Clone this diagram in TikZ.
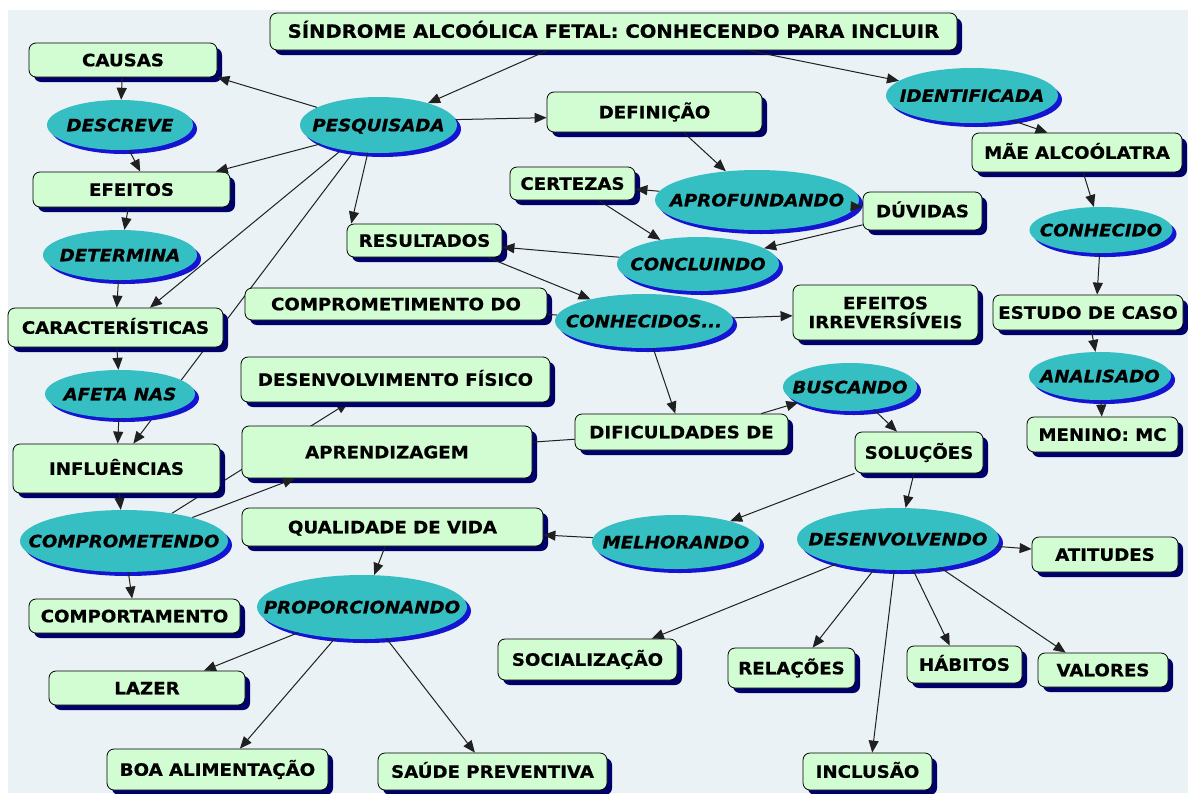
\documentclass[tikz,border=0pt]{standalone}
\usepackage{fontspec}
\newfontfamily\mapfont{DejaVu Sans}[FakeStretch=1.07,FakeBold=0.6]
\usetikzlibrary{shapes.geometric,shadows,arrows.meta}

\definecolor{paper}{HTML}{EAF2F5}
\definecolor{mint}{HTML}{D2FCD2}
\definecolor{tealfill}{HTML}{35BFC3}
\definecolor{boxshade}{HTML}{00006A}
\definecolor{ovalshade}{HTML}{1414D2}
\definecolor{ink}{HTML}{202020}

\pgfdeclarelayer{bg}
\pgfdeclarelayer{under}
\pgfsetlayers{bg,under,main}

% zero-width label so the ellipse keeps its given size
\newcommand\ph[1]{\makebox[0pt]{#1}}

\tikzset{
  conceptbase/.style={rectangle, rounded corners=7pt, draw=black, line width=0.8pt,
    fill=mint, inner sep=0pt, align=center,
    font=\mapfont\bfseries\fontsize{17}{20}\selectfont,
    general shadow={fill=boxshade, shadow xshift=5pt, shadow yshift=-5pt}},
  concept/.style={conceptbase, text height=12.5pt, text depth=0pt},
  phrase/.style={ellipse, fill=tealfill, inner sep=0pt,
    text height=12.5pt, text depth=0pt,
    font=\mapfont\bfseries\itshape\fontsize{17}{20}\selectfont,
    general shadow={fill=ovalshade, shadow xshift=4pt, shadow yshift=-4pt}},
  link/.style={draw=ink, line width=1pt, -{Triangle[length=12pt,width=10pt]}},
  tie/.style={draw=ink, line width=1pt},
}

\begin{document}
\begin{tikzpicture}[x=1pt,y=-1pt]
\useasboundingbox (0,0) rectangle (1188,793);
\begin{pgfonlayer}{bg}
  \fill[white] (0,0) rectangle (1188,793);
  \fill[paper] (8,10) rectangle (1188,793);
\end{pgfonlayer}

% title
\node[concept, minimum width=687pt, minimum height=37pt,
      font=\mapfont\bfseries\fontsize{18.3}{21}\selectfont]
      (title) at (613.5,31.5) {SÍNDROME ALCOÓLICA FETAL: CONHECENDO PARA INCLUIR};

% left column
\node[concept, minimum width=188pt, minimum height=34pt] (causas) at (123,60) {CAUSAS};
\node[phrase, minimum width=146pt, minimum height=50pt] (descr) at (120,125) {\ph{DESCREVE}};
\node[concept, minimum width=197pt, minimum height=35pt] (efeitos) at (131.5,189.5) {EFEITOS};
\node[phrase, minimum width=154pt, minimum height=50pt] (determ) at (120,255) {\ph{DETERMINA}};
\node[concept, minimum width=215pt, minimum height=39pt] (caract) at (115.5,327.5) {CARACTERÍSTICAS};
\node[phrase, minimum width=150pt, minimum height=48pt] (afeta) at (120,394) {\ph{AFETA NAS}};
\node[concept, minimum width=207pt, minimum height=49pt] (influ) at (116.5,468.5) {INFLUÊNCIAS};
\node[phrase, minimum width=208pt, minimum height=62pt] (compm) at (124,541) {\ph{COMPROMETENDO}};
\node[concept, minimum width=211pt, minimum height=34pt] (compt) at (134.5,616) {COMPORTAMENTO};
\node[concept, minimum width=196pt, minimum height=34pt] (lazer) at (147,688) {LAZER};
\node[concept, minimum width=221pt, minimum height=41pt] (boa) at (217.5,769.5) {BOA ALIMENTAÇÃO};

% middle
\node[phrase, minimum width=157pt, minimum height=56pt] (pesq) at (378.5,125) {\ph{PESQUISADA}};
\node[concept, minimum width=215pt, minimum height=40pt] (defin) at (654.5,112) {DEFINIÇÃO};
\node[concept, minimum width=125pt, minimum height=33pt] (certez) at (572.5,183.5) {CERTEZAS};
\node[phrase, minimum width=204pt, minimum height=60pt] (aprof) at (757,200) {\ph{APROFUNDANDO}};
\node[concept, minimum width=119pt, minimum height=38pt] (duvid) at (922.5,211) {DÚVIDAS};
\node[concept, minimum width=155pt, minimum height=33pt] (result) at (424.5,240.5) {RESULTADOS};
\node[phrase, minimum width=162pt, minimum height=54pt] (conclu) at (698,264) {\ph{CONCLUINDO}};
\node[concept, minimum width=302pt, minimum height=32pt] (comprdo) at (396,304) {COMPROMETIMENTO DO};
\node[phrase, minimum width=178pt, minimum height=54pt] (conhcd) at (644,321) {\ph{CONHECIDOS...}};
\node[conceptbase, minimum width=185pt, minimum height=55pt] (efirr) at (885.5,312.5)
      {EFEITOS\\[-1pt]IRREVERSÍVEIS};
\node[concept, minimum width=309pt, minimum height=45pt] (desfis) at (395.5,379.5) {DESENVOLVIMENTO FÍSICO};
\node[concept, minimum width=290pt, minimum height=52pt] (aprend) at (387,452) {APRENDIZAGEM};
\node[concept, minimum width=213pt, minimum height=36pt] (dific) at (681.5,432) {DIFICULDADES DE};
\node[phrase, minimum width=134pt, minimum height=48pt] (busc) at (850,387) {\ph{BUSCANDO}};
\node[concept, minimum width=128pt, minimum height=41pt] (soluc) at (919,452.5) {SOLUÇÕES};
\node[concept, minimum width=301pt, minimum height=38pt] (qualid) at (392.5,527) {QUALIDADE DE VIDA};
\node[phrase, minimum width=168pt, minimum height=54pt] (melh) at (676,542) {\ph{MELHORANDO}};
\node[phrase, minimum width=210pt, minimum height=64pt] (propor) at (362,607) {\ph{PROPORCIONANDO}};
\node[concept, minimum width=229pt, minimum height=37pt] (saude) at (492.5,771.5) {SAÚDE PREVENTIVA};
\node[phrase, minimum width=202pt, minimum height=62pt] (desenv) at (898,539) {\ph{DESENVOLVENDO}};
\node[concept, minimum width=146pt, minimum height=35pt] (atit) at (1105,554.5) {ATITUDES};
\node[concept, minimum width=179pt, minimum height=41pt] (socia) at (587.5,659.5) {SOCIALIZAÇÃO};
\node[concept, minimum width=127pt, minimum height=40pt] (relac) at (791.5,668) {RELAÇÕES};
\node[concept, minimum width=115pt, minimum height=37pt] (habit) at (964.5,664.5) {HÁBITOS};
\node[concept, minimum width=130pt, minimum height=34pt] (valor) at (1103,670) {VALORES};
\node[concept, minimum width=129pt, minimum height=37pt] (inclus) at (867.5,771.5) {INCLUSÃO};

% right column
\node[phrase, minimum width=172pt, minimum height=55pt] (ident) at (972,95.5) {\ph{IDENTIFICADA}};
\node[concept, minimum width=210pt, minimum height=39pt] (mae) at (1077,152.5) {MÃE ALCOÓLATRA};
\node[phrase, minimum width=143pt, minimum height=46pt] (conhec) at (1101,230) {\ph{CONHECIDO}};
\node[concept, minimum width=190pt, minimum height=35pt] (estudo) at (1088,312.5) {ESTUDO DE CASO};
\node[phrase, minimum width=142pt, minimum height=48pt] (analis) at (1100,376) {\ph{ANALISADO}};
\node[concept, minimum width=151pt, minimum height=35pt] (menino) at (1102.5,434.5) {MENINO: MC};

% long links that run behind other concepts
\begin{pgfonlayer}{under}
  \draw[link] (pesq.214) -- (caract.30);
  \draw[link] (pesq.227) -- (influ.56);
  \draw[link] (compm.30) -- (desfis.206);
\end{pgfonlayer}

% links
\draw[link] (title.196) -- (pesq);
\draw[link] (title.352) -- (ident);
\draw[link] (pesq.164) -- (causas.south east);
\draw[link] (pesq.198) -- (efeitos.12);
\draw[link] (pesq.4) -- (defin.183);
\draw[link] (pesq.249) -- (result.167);
\draw[link] (causas) -- (descr);
\draw[link] (descr.-70) -- (efeitos.64);
\draw[link] (efeitos) -- (determ);
\draw[link] (determ) -- (caract);
\draw[link] (caract) -- (afeta);
\draw[link] (afeta) -- (influ);
\draw[link] (influ) -- (compm);
\draw[link] (compm) -- (compt);
\draw[link] (compm.19) -- (aprend.196);
\draw[tie] (aprend) -- (dific);
\draw[tie] (comprdo) -- (conhcd);
\draw[link] (result.-15) -- (conhcd);
\draw[link] (conclu) -- (result);
\draw[link] (certez) -- (conclu);
\draw[link] (duvid.193) -- (conclu);
\draw[link] (aprof) -- (certez);
\draw[link] (aprof) -- (duvid);
\draw[link] (defin.-35) -- (aprof);
\draw[link] (conhcd) -- (efirr);
\draw[link] (conhcd) -- (dific);
\draw[link] (dific.13) -- (busc);
\draw[link] (busc) -- (soluc);
\draw[link] (soluc.south west) -- (melh);
\draw[link] (soluc) -- (desenv);
\draw[link] (melh) -- (qualid);
\draw[link] (qualid) -- (propor);
\draw[link] (propor) -- (lazer.17);
\draw[link] (propor) -- (boa.43);
\draw[link] (propor) -- (saude.133);
\draw[link] (desenv) -- (socia.18);
\draw[link] (desenv) -- (relac.44);
\draw[link] (desenv) -- (inclus.76);
\draw[link] (desenv) -- (habit.128);
\draw[link] (desenv) -- (valor.155);
\draw[link] (desenv) -- (atit);
\draw[link] (ident.-32) -- (mae.146);
\draw[link] (mae) -- (conhec);
\draw[link] (conhec) -- (estudo.63);
\draw[link] (estudo) -- (analis);
\draw[link] (analis) -- (menino);
\end{tikzpicture}
\end{document}
